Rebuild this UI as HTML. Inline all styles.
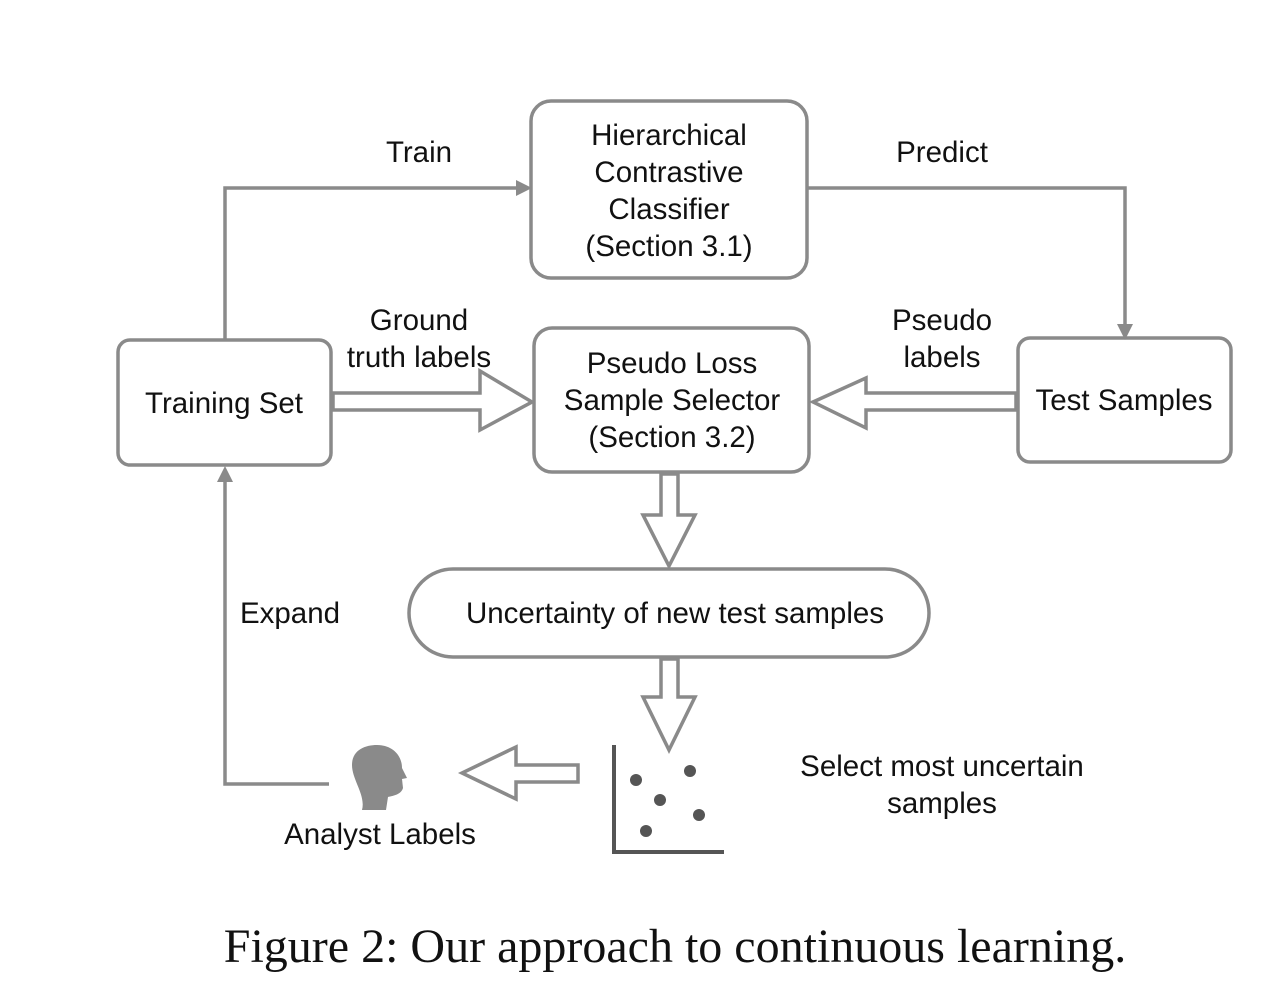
<!DOCTYPE html>
<html><head><style>body{margin:0;background:#fff}</style></head><body>
<svg width="1273" height="1000" xmlns="http://www.w3.org/2000/svg" font-family="Liberation Sans, sans-serif">
<rect width="1273" height="1000" fill="#fff"/>
<g fill="none" stroke="#8a8a8a" stroke-width="3.5">
<rect x="531" y="101" width="276" height="177" rx="20"/>
<rect x="118" y="340" width="213" height="125" rx="12"/>
<rect x="534" y="328" width="275" height="144" rx="18"/>
<rect x="1018" y="338" width="213" height="124" rx="12"/>
<rect x="409" y="569" width="520" height="88" rx="44"/>
<polyline points="225,340 225,188 518,188"/>
<polyline points="807,188 1125,188 1125,325"/>
<polyline points="329,784 225,784 225,480"/>
<polygon points="333,393 480,393 480,371 532,402 480,430 480,410 333,410"/>
<polygon points="1016,393 866,393 866,378 813,402 866,428 866,410 1016,410"/>
<polygon points="661,474 678,474 678,515 695,515 669,566 643,515 661,515"/>
<polygon points="661,659 678,659 678,697 695,697 669,750 643,697 661,697"/>
<polygon points="578,765 516,765 516,747 462,773 516,799 516,782 578,782"/>
</g>
<g fill="#8a8a8a">
<polygon points="516,180 532,188 516,196"/>
<polygon points="1117,324 1125,340 1133,324"/>
<polygon points="217,482 225,466 233,482"/>
</g>
<path d="M614,745 V852 H724" fill="none" stroke="#555" stroke-width="4"/>
<g fill="#555"><circle cx="636" cy="780" r="6"/><circle cx="690" cy="771" r="6"/><circle cx="660" cy="800" r="6"/><circle cx="699" cy="815" r="6"/><circle cx="646" cy="831" r="6"/></g>
<path d="M362,810 C366,795 352,780 352,765 C352,750 365,745 377,745 C392,745 402,755 402,768 L407,778 L402,779 L403,788 C401,795 392,796 388,797 L386,810 Z" fill="#8a8a8a"/>
<g font-size="29.5" fill="#111" text-anchor="middle">
<text x="669" y="145">Hierarchical</text>
<text x="669" y="182">Contrastive</text>
<text x="669" y="219">Classifier</text>
<text x="669" y="256">(Section 3.1)</text>
<text x="419" y="162">Train</text>
<text x="942" y="162">Predict</text>
<text x="419" y="330">Ground</text>
<text x="419" y="367">truth labels</text>
<text x="942" y="330">Pseudo</text>
<text x="942" y="367">labels</text>
<text x="224" y="413">Training Set</text>
<text x="672" y="373">Pseudo Loss</text>
<text x="672" y="410">Sample Selector</text>
<text x="672" y="447">(Section 3.2)</text>
<text x="1124" y="410">Test Samples</text>
<text x="675" y="623">Uncertainty of new test samples</text>
<text x="290" y="623">Expand</text>
<text x="380" y="844">Analyst Labels</text>
<text x="942" y="776">Select most uncertain</text>
<text x="942" y="813">samples</text>
</g>
<text x="675" y="962" font-family="Liberation Serif, serif" font-size="48" text-anchor="middle" fill="#111">Figure 2: Our approach to continuous learning.</text>
</svg>
</body></html>
